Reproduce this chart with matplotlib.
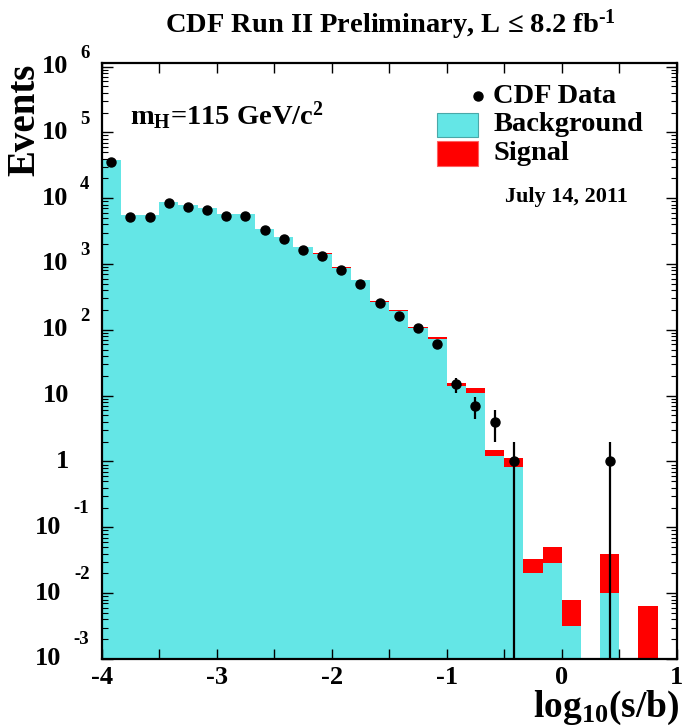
import numpy as np
import matplotlib
matplotlib.use("Agg")
import matplotlib.pyplot as plt
from matplotlib.patches import Rectangle
from matplotlib.lines import Line2D

plt.rcParams['font.family'] = ['Liberation Serif', 'DejaVu Serif']
plt.rcParams['font.weight'] = 'bold'
plt.rcParams['mathtext.default'] = 'regular'
plt.rcParams['mathtext.fontset'] = 'custom'
plt.rcParams['mathtext.rm'] = 'Liberation Serif:bold'
plt.rcParams['mathtext.bf'] = 'Liberation Serif:bold'
plt.rcParams['mathtext.it'] = 'Liberation Serif:bold:italic'

# ---- data ----
bin_edges = [-4.0, -3.8333, -3.6667, -3.5, -3.3333, -3.1667, -3.0, -2.8333, -2.6667, -2.5,
             -2.3333, -2.1667, -2.0, -1.8333, -1.6667, -1.5, -1.3333, -1.1667, -1.0, -0.8333,
             -0.6667, -0.5, -0.3333, -0.1667, 0.0, 0.1667, 0.3333, 0.5, 0.6667, 0.8333, 1.0]
background = [37500, 5500, 5500, 8700, 7800, 7200, 5700, 5700, 3420, 2560,
              1790, 1440, 880, 565, 268, 196, 105, 72, 14.0, 11.1,
              1.2, 0.83, 0.0205, 0.0285, 0.0032, 0.0, 0.0102, 0.0, 0.0009, 0.0]
signal = [4.0, 0.9, 1.3, 3.2, 4.2, 5.5, 6.5, 10, 9, 9.5,
          9.5, 11, 10, 10, 7, 7.5, 6, 6, 1.8, 2.1,
          0.3, 0.31, 0.013, 0.0225, 0.0047, 0.0, 0.029, 0.0, 0.0054, 0.0]
data = [36000, 5200, 5100, 8500, 7300, 6700, 5350, 5350, 3240, 2420,
        1660, 1320, 820, 500, 253, 163, 107, 60, 15, 7,
        4, 1, 0, 0, 0, 0, 1, 0, 0, 0]
ytick_exponents = [-3, -2, -1, 0, 1, 2, 3, 4, 5, 6]
xtick_values = [-4, -3, -2, -1, 0, 1]

CYAN = '#64e6e6'
RED = '#ff0000'

edges = np.array(bin_edges)
centers = 0.5 * (edges[:-1] + edges[1:])
widths = np.diff(edges)
bg = np.array(background, dtype=float)
sig = np.array(signal, dtype=float)
dat = np.array(data, dtype=float)

fig = plt.figure(figsize=(6.82, 7.28), dpi=100)
ax = fig.add_axes([0.1491, 0.0948, 0.8431, 0.8183])
ax.set_yscale('log')

# stacked histogram: signal on top of background
ax.bar(centers, bg + sig, width=widths, color=RED, linewidth=0, align='center')
ax.bar(centers, bg, width=widths, color=CYAN, linewidth=0, align='center')

# data points
m = dat > 0
ax.errorbar(centers[m], dat[m], yerr=np.sqrt(dat[m]), fmt='o', color='black',
            markersize=6.5, elinewidth=1.6, capsize=0, zorder=5)

ax.set_xlim(-4, 1)
ax.set_ylim(1e-3, 1.12e6)

for s in ax.spines.values():
    s.set_linewidth(1.6)

# ticks
ax.set_xticks(xtick_values)
ax.set_xticks(np.arange(-3.5, 1.0, 1.0), minor=True)
ax.set_yticks([10.0 ** e for e in ytick_exponents])
ax.tick_params(axis='both', which='both', direction='in', top=True, right=True)
ax.tick_params(axis='y', which='major', length=8, width=1.0)
ax.tick_params(axis='y', which='minor', length=4, width=0.8)
ax.tick_params(axis='x', which='both', length=7, width=1.0)
ax.set_xticklabels([])
ax.set_yticklabels([])
ax.yaxis.set_minor_formatter(matplotlib.ticker.NullFormatter())

# x tick labels
xt = ax.get_xaxis_transform()
for v in xtick_values:
    ax.text(v, -0.031, f"{v}", transform=xt, ha='center', va='center',
            fontsize=19, fontweight='bold')

# y tick labels ROOT style (10 with raised exponent, right aligned as a whole)
yt = ax.get_yaxis_transform()
for e in ytick_exponents:
    y = 10.0 ** e
    if e in (0, 1):
        ax.text(-0.057, y, "1" if e == 0 else "10", transform=yt, ha='right', va='center',
                fontsize=19, fontweight='bold')
    else:
        xr = -0.0708 if e < 0 else -0.0586
        raise_dec = 0.29 if e < 0 else 0.20
        ax.text(xr, y, "10", transform=yt, ha='right', va='center', fontsize=19, fontweight='bold')
        ax.text(-0.0212, y * 10 ** raise_dec, f"{e}", transform=yt, ha='right', va='center',
                fontsize=13.5, fontweight='bold')

# axis titles
fig.text(0.037, 0.912, 'Events', rotation=90, ha='center', va='top', fontsize=28, fontweight='bold')
fig.text(0.997, 0.015, 'log$_{10}$(s/b)', ha='right', va='baseline', fontsize=27, fontweight='bold')

# title
fig.text(0.573, 0.966, 'CDF Run II Preliminary, L \u2264 8.2 fb$^{\\text{-1}}$', ha='center', va='center',
         fontsize=20.5, fontweight='bold')

# annotations
ax.text(0.05, 0.912, 'm$_{H}$=115 GeV/c$^{2}$', transform=ax.transAxes, ha='left', va='center',
        fontsize=20.5, fontweight='bold')
ax.text(0.702, 0.775, 'July 14, 2011', transform=ax.transAxes, ha='left', va='center',
        fontsize=16, fontweight='bold')

# legend (manual)
ax.add_line(Line2D([0.655], [0.945], transform=ax.transAxes, marker='o', color='black',
                   markersize=6.5, linestyle='none'))
ax.text(0.681, 0.945, 'CDF Data', transform=ax.transAxes, ha='left', va='center', fontsize=20.5, fontweight='bold')
ax.add_patch(Rectangle((0.583, 0.876), 0.072, 0.041, transform=ax.transAxes,
                       facecolor=CYAN, edgecolor='#4aa8a8', linewidth=0.8))
ax.text(0.681, 0.897, 'Background', transform=ax.transAxes, ha='left', va='center', fontsize=20.5, fontweight='bold')
ax.add_patch(Rectangle((0.583, 0.828), 0.072, 0.041, transform=ax.transAxes,
                       facecolor=RED, edgecolor='#ff6060', linewidth=0.8))
ax.text(0.681, 0.849, 'Signal', transform=ax.transAxes, ha='left', va='center', fontsize=20.5, fontweight='bold')

fig.savefig('out.png', dpi=100)
